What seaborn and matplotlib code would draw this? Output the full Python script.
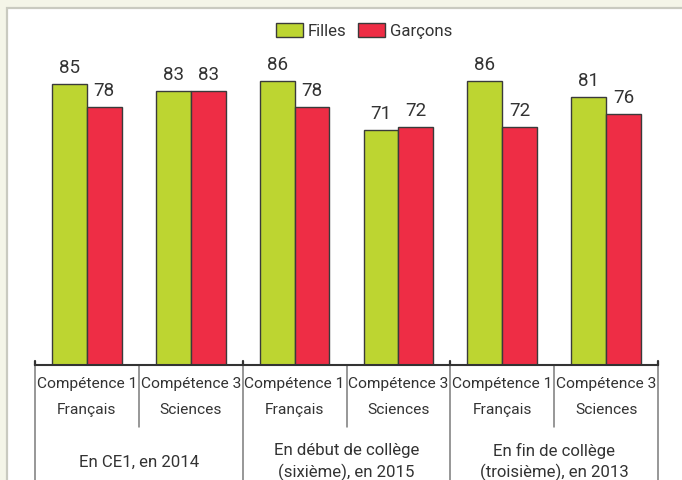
import matplotlib
matplotlib.use("Agg")
import matplotlib.pyplot as plt
from matplotlib.patches import Rectangle
import pandas as pd
import seaborn as sns

# Data
competences = ["Compétence 1", "Compétence 3", "Compétence 1",
               "Compétence 3", "Compétence 1", "Compétence 3"]
matieres = ["Français", "Sciences", "Français", "Sciences", "Français", "Sciences"]
periodes = ["En CE1, en 2014",
            "En début de collège\n(sixième), en 2015",
            "En fin de collège\n(troisième), en 2013"]
filles = [85, 83, 86, 71, 86, 81]
garcons = [78, 83, 78, 72, 72, 76]
series = ["Filles", "Garçons"]
colors = {"Filles": "#bdd531", "Garçons": "#ee2d45"}

sns.set_theme(style="white")
plt.rcParams["font.family"] = ["Roboto", "DejaVu Sans"]
TXT = "#333333"

W, H = 682, 480
fig = plt.figure(figsize=(W / 100, H / 100), dpi=100)

# Size the text so that a category label spans about 100 px
probe = fig.text(0, 0, "Compétence 1", fontsize=10)
fig.canvas.draw()
pw = probe.get_window_extent().width
probe.remove()
FS = min(14.5, 10 * 100 / pw)

df = pd.DataFrame({
    "slot": list(range(6)) * 2,
    "valeur": filles + garcons,
    "sexe": ["Filles"] * 6 + ["Garçons"] * 6,
})

fig.patch.set_facecolor("#f4f5e8")
fig.add_artist(Rectangle((7 / W, -0.02), 1.0, 1 - 7.5 / H + 0.02,
                         transform=fig.transFigure, facecolor="white",
                         edgecolor="#c9cac0", linewidth=1.6, zorder=0))

base_y = 365
scale = 3.306  # pixels per unit
ax_h = 100 * scale
ax = fig.add_axes([35 / W, (H - base_y) / H, 623 / W, ax_h / H])
ax.set_facecolor("none")

sns.barplot(data=df, x="slot", y="valeur", hue="sexe", hue_order=series,
            palette=colors, width=0.67, edgecolor="#3a3a3a", linewidth=1.0,
            saturation=1, legend=False, ax=ax)

ax.set_ylim(0, 100)
ax.set_xlim(-0.5, 5.5)
for s in ["top", "left", "right"]:
    ax.spines[s].set_visible(False)
ax.spines["bottom"].set_color("#333333")
ax.spines["bottom"].set_linewidth(1.5)
ax.set_xticks([])
ax.set_yticks([])
ax.set_xlabel("")
ax.set_ylabel("")

# Value labels above each bar
for cont in ax.containers:
    ax.bar_label(cont, fmt="%d", padding=5, fontsize=13.5, color=TXT)

# Table lines under the axis
tr = ax.get_xaxis_transform()
def frac(ypix):
    return (base_y - ypix) / ax_h

for xs in [-0.5, 1.5, 3.5, 5.5]:
    ax.plot([xs, xs], [frac(482), frac(365)], color="#7a7a7a", lw=1.1,
            transform=tr, clip_on=False)
    ax.plot([xs, xs], [0, frac(361)], color="#333333", lw=1.6,
            transform=tr, clip_on=False)
for xs in [0.5, 2.5, 4.5]:
    ax.plot([xs, xs], [frac(427), frac(365)], color="#7a7a7a", lw=1.1,
            transform=tr, clip_on=False)

for i in range(6):
    ax.text(i, frac(384), competences[i], ha="center", va="center",
            fontsize=FS, color=TXT, transform=tr)
    ax.text(i, frac(410), matieres[i], ha="center", va="center",
            fontsize=FS, color=TXT, transform=tr)
for g, lab in enumerate(periodes):
    ax.text(2 * g + 0.5, frac(462), lab, ha="center", va="center",
            fontsize=FS * 1.08, color=TXT, linespacing=1.4, transform=tr)

# Legend
handles = [Rectangle((0, 0), 1, 1, facecolor=colors[s], edgecolor="#3a3a3a",
                     linewidth=1.0) for s in series]
LFS = FS * 1.08
leg = fig.legend(handles, series, loc="center", ncol=2, frameon=False,
                 bbox_to_anchor=(364 / W, 1 - 31 / H), fontsize=LFS,
                 handlelength=27 / LFS * 0.72, handleheight=14 / LFS * 0.72,
                 handletextpad=0.3, columnspacing=0.7, borderaxespad=0)
for t in leg.get_texts():
    t.set_color(TXT)

fig.savefig("out.png", dpi=100, facecolor=fig.get_facecolor())
